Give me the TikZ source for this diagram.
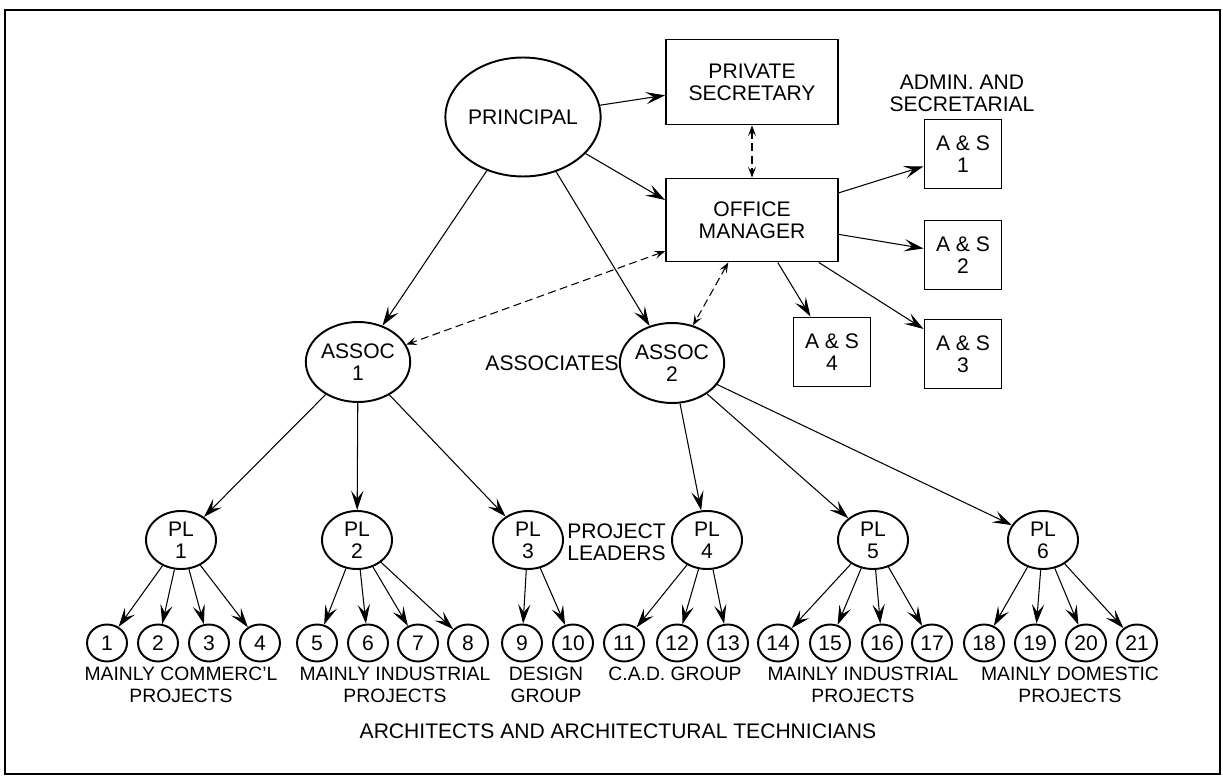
\documentclass[tikz,border=0pt]{standalone}
\usepackage{fontspec}
\setmainfont{Liberation Sans}
\usetikzlibrary{shapes.geometric,arrows.meta}

\begin{document}
\begin{tikzpicture}[x=0.02cm, y=-0.02cm,
  font=\fontsize{12}{12.5}\selectfont,
  oval/.style={ellipse, draw, line width=1.1pt, inner sep=0pt, align=center},
  box/.style={rectangle, draw, line width=1.1pt, inner sep=0pt, align=center},
  asbox/.style={box, minimum width=1.54cm, minimum height=1.38cm},
  assoc/.style={oval, minimum width=1.76cm, minimum height=1.6cm},
  pl/.style={oval, minimum width=1.4cm, minimum height=1.16cm},
  num/.style={oval, minimum width=0.8cm, minimum height=0.74cm},
  lbl/.style={align=center, inner sep=0pt},
  grp/.style={lbl, anchor=north, font=\fontsize{11}{12.5}\selectfont},
  to/.style={-{Stealth[length=11pt, width=7pt, inset=4.5pt]}, line width=0.6pt},
  both/.style={{Stealth[length=6pt, width=4.5pt, inset=2.5pt]}-{Stealth[length=6pt, width=4.5pt, inset=2.5pt]}, line width=0.6pt, dash pattern=on 4.5pt off 2.5pt}]

\useasboundingbox (0,0) rectangle (1223,776);
\draw[line width=1.2pt] (5,10) rectangle (1220,774);

% top of the office
\node[oval, minimum width=2.6cm, minimum height=2.38cm] (Principal) at (523,117) {PRINCIPAL};
\node[box, minimum width=3.44cm, minimum height=1.7cm] (PrivSec) at (752,82) {PRIVATE\\SECRETARY};
\node[box, minimum width=3.44cm, minimum height=1.66cm] (OffMgr) at (752,220) {OFFICE\\MANAGER};

% admin and secretarial
\node[lbl] (Admin) at (962,93) {ADMIN. AND\\SECRETARIAL};
\node[asbox] (AS1) at (963,154) {A \& S\\1};
\node[asbox] (AS2) at (963,255) {A \& S\\2};
\node[asbox] (AS3) at (963,354) {A \& S\\3};
\node[asbox] (AS4) at (832,352) {A \& S\\4};

% associates
\node[assoc] (Assoc1) at (358,362) {ASSOC\\1};
\node[assoc] (Assoc2) at (672,363) {ASSOC\\2};
\node[lbl, anchor=east] (Associates) at (619,363) {ASSOCIATES};

% project leaders
\node[pl] (PL1) at (181,540) {PL\\1};
\node[pl] (PL2) at (357,540) {PL\\2};
\node[pl] (PL3) at (528,540) {PL\\3};
\node[pl] (PL4) at (707,540) {PL\\4};
\node[pl] (PL5) at (873,540) {PL\\5};
\node[pl] (PL6) at (1043,540) {PL\\6};
\node[lbl, align=left, anchor=west] (Leaders) at (567,542) {PROJECT\\LEADERS};

% architects and technicians
\node[num] (N1) at (107,643) {1};
\node[num] (N2) at (158,643) {2};
\node[num] (N3) at (209,643) {3};
\node[num] (N4) at (260,643) {4};
\node[num] (N5) at (317,643) {5};
\node[num] (N6) at (368,643) {6};
\node[num] (N7) at (418,643) {7};
\node[num] (N8) at (468,643) {8};
\node[num] (N9) at (522,643) {9};
\node[num] (N10) at (573,643) {10};
\node[num] (N11) at (624,643) {11};
\node[num] (N12) at (677,643) {12};
\node[num] (N13) at (728,643) {13};
\node[num] (N14) at (778,643) {14};
\node[num] (N15) at (830,643) {15};
\node[num] (N16) at (882,643) {16};
\node[num] (N17) at (932,643) {17};
\node[num] (N18) at (984,643) {18};
\node[num] (N19) at (1035,643) {19};
\node[num] (N20) at (1086,643) {20};
\node[num] (N21) at (1137,643) {21};

\node[grp] (Commerc) at (181,667) {MAINLY COMMERC'L\\PROJECTS};
\node[grp] (Indust1) at (395,667) {MAINLY INDUSTRIAL\\PROJECTS};
\node[grp] (Design) at (546,667) {DESIGN\\GROUP};
\node[grp] (CAD) at (675,667) {C.A.D. GROUP};
\node[grp] (Indust2) at (863,667) {MAINLY INDUSTRIAL\\PROJECTS};
\node[grp] (Domestic) at (1070,667) {MAINLY DOMESTIC\\PROJECTS};
\node[lbl] (Arch) at (618,731) {ARCHITECTS AND ARCHITECTURAL TECHNICIANS};

\draw[to] (Principal) -- (PrivSec);
\draw[to] (Principal) -- ([yshift=0.4cm]OffMgr.west);
\draw[to] (Principal) -- (Assoc1);
\draw[to] (Principal) -- (Assoc2);
\draw[both] (PrivSec) -- (OffMgr);
\draw[both] (OffMgr) -- (Assoc1);
\draw[both] (OffMgr) -- (Assoc2);

\draw[to] (OffMgr) -- (AS1);
\draw[to] (OffMgr) -- (AS2);
\draw[to] (OffMgr) -- (AS3);
\draw[to] (OffMgr) -- (AS4);

\draw[to] (Assoc1) -- (PL1);
\draw[to] (Assoc1) -- (PL2);
\draw[to] (Assoc1) -- (PL3);
\draw[to] (Assoc2) -- (PL4);
\draw[to] (Assoc2) -- (PL5);
\draw[to] (Assoc2) -- (PL6);

\draw[to] (PL1) -- (N1);
\draw[to] (PL1) -- (N2);
\draw[to] (PL1) -- (N3);
\draw[to] (PL1) -- (N4);
\draw[to] (PL2) -- (N5);
\draw[to] (PL2) -- (N6);
\draw[to] (PL2) -- (N7);
\draw[to] (PL2) -- (N8);
\draw[to] (PL3) -- (N9);
\draw[to] (PL3) -- (N10);
\draw[to] (PL4) -- (N11);
\draw[to] (PL4) -- (N12);
\draw[to] (PL4) -- (N13);
\draw[to] (PL5) -- (N14);
\draw[to] (PL5) -- (N15);
\draw[to] (PL5) -- (N16);
\draw[to] (PL5) -- (N17);
\draw[to] (PL6) -- (N18);
\draw[to] (PL6) -- (N19);
\draw[to] (PL6) -- (N20);
\draw[to] (PL6) -- (N21);
\end{tikzpicture}
\end{document}
